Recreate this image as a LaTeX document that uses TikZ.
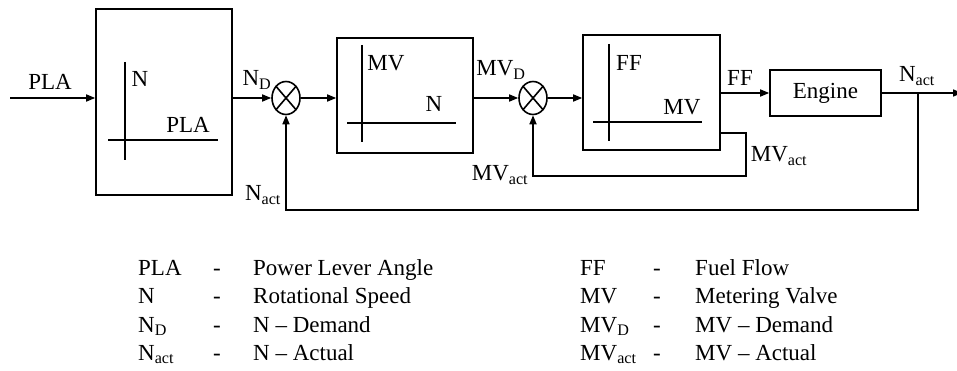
\documentclass[tikz,border=0pt]{standalone}
\usepackage{fontspec}
\setmainfont{Liberation Serif}
\usetikzlibrary{arrows.meta,shapes.geometric}
\newcommand{\mysb}[1]{\textsubscript{#1}}
\begin{document}
\begin{tikzpicture}[x=1pt,y=-1pt,
  every node/.style={font=\fontsize{23}{27}\selectfont, inner sep=0pt},
  blk/.style={draw, line width=1.6pt, inner sep=0pt},
  ln/.style={line width=1.6pt},
  arr/.style={line width=1.6pt, -{Triangle[length=9pt,width=7pt]}},
  sumj/.style={draw, ellipse, line width=1.6pt, minimum width=28pt, minimum height=33pt, inner sep=0pt},
  leg/.style={anchor=base west},
  dsh/.style={anchor=base}
]
\useasboundingbox (0,0) rectangle (957,371);

% blocks
\node[blk, minimum width=136pt, minimum height=186pt] (b1) at (164,102) {};
\node[blk, minimum width=136pt, minimum height=115pt] (b2) at (405,95.5) {};
\node[blk, minimum width=137pt, minimum height=115pt] (b3) at (651.5,92.5) {};
\node[blk, minimum width=111pt, minimum height=46pt] (eng) at (825.5,93) {Engine};

% summing junctions
\node[sumj] (s1) at (286,98) {};
\node[sumj] (s2) at (533,98) {};
\draw[ln] (s1.north west) -- (s1.south east) (s1.north east) -- (s1.south west);
\draw[ln] (s2.north west) -- (s2.south east) (s2.north east) -- (s2.south west);

% axes inside blocks
\draw[ln] (125,62) -- (125,160) (108,140) -- (218,140);
\draw[ln] (362,45) -- (362,142) (347,123) -- (456,123);
\draw[ln] (609,44) -- (609,141) (593,122) -- (702,122);

% inner labels
\node (l1) at (140,79) {N};
\node (l2) at (188,125) {PLA};
\node (l3) at (386,63) {MV};
\node (l4) at (434,104) {N};
\node (l5) at (629,63) {FF};
\node (l6) at (682,107) {MV};

% coordinates
\coordinate (in) at (10,98);
\coordinate (out) at (962,93);
\coordinate (br) at (918,93);
\coordinate (fb) at (918,210);
\coordinate (c1) at (746,133);
\coordinate (c2) at (533,176);

% connectors
\draw[arr] (in) -- (in -| b1.west);
\draw[arr] (b1.east |- s1) -- (s1.west);
\draw[arr] (s1.east) -- (s1 -| b2.west);
\draw[arr] (b2.east |- s2) -- (s2.west);
\draw[arr] (s2.east) -- (s2 -| b3.west);
\draw[arr] (b3.east |- eng) -- (eng.west);
\draw[arr] (eng.east) -- (out);
\draw[arr] (br) -- (fb) -| (s1.south);
\draw[arr] (b3.east |- c1) -- (c1) |- (c2) -- (s2.south);

% signal labels
\node (t1) at (50,82) {PLA};
\node (t2) at (257,80) {N\mysb{D}};
\node (t3) at (263,195) {N\mysb{act}};
\node (t4) at (501,70) {MV\mysb{D}};
\node (t5) at (500,175) {MV\mysb{act}};
\node (t6) at (779,156) {MV\mysb{act}};
\node (t7) at (740,78) {FF};
\node (t8) at (917,76) {N\mysb{act}};

% legend
\node[leg] (a1) at (138,275) {PLA};
\node[dsh] (d1) at (217,275) {-};
\node[leg] (e1) at (253,275) {Power Lever Angle};
\node[leg] (a2) at (138,303) {N};
\node[dsh] (d2) at (217,303) {-};
\node[leg] (e2) at (253,303) {Rotational Speed};
\node[leg] (a3) at (138,332) {N\mysb{D}};
\node[dsh] (d3) at (217,332) {-};
\node[leg] (e3) at (253,332) {N – Demand};
\node[leg] (a4) at (138,360) {N\mysb{act}};
\node[dsh] (d4) at (217,360) {-};
\node[leg] (e4) at (253,360) {N – Actual};

\node[leg] (f1) at (580,275) {FF};
\node[dsh] (g1) at (657,275) {-};
\node[leg] (h1) at (695,275) {Fuel Flow};
\node[leg] (f2) at (580,303) {MV};
\node[dsh] (g2) at (657,303) {-};
\node[leg] (h2) at (695,303) {Metering Valve};
\node[leg] (f3) at (580,332) {MV\mysb{D}};
\node[dsh] (g3) at (657,332) {-};
\node[leg] (h3) at (695,332) {MV – Demand};
\node[leg] (f4) at (580,360) {MV\mysb{act}};
\node[dsh] (g4) at (657,360) {-};
\node[leg] (h4) at (695,360) {MV – Actual};
\end{tikzpicture}
\end{document}
